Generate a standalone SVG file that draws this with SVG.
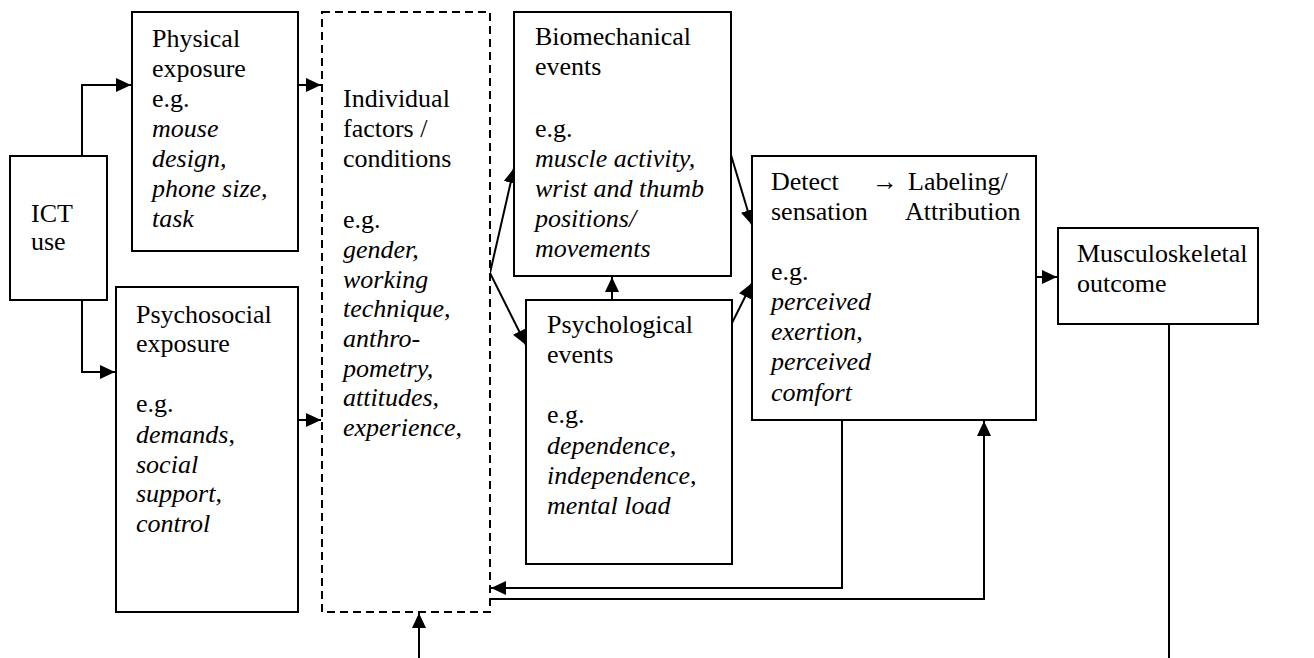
<svg xmlns="http://www.w3.org/2000/svg" width="1314" height="658" viewBox="0 0 1314 658">
<style>
.box{fill:#fff;stroke:#000;stroke-width:2}
.dash{fill:#fff;stroke:#000;stroke-width:2;stroke-dasharray:8 5}
.t{font-family:'Liberation Serif','Times New Roman',serif;font-size:26px;fill:#000}
.i{font-style:italic}
.c{fill:none;stroke:#000;stroke-width:2}
</style>
<defs>
<marker id="ah" markerUnits="userSpaceOnUse" markerWidth="16" markerHeight="14" refX="15" refY="7" orient="auto">
<path d="M0,0 L15,7 L0,14 z" fill="#000"/>
</marker>
</defs>
<rect width="1314" height="658" fill="#fff"/>
<g id="connectors">
<path class="c" d="M82,156 V85 H131" marker-end="url(#ah)"/>
<path class="c" d="M82,300 V372 H115" marker-end="url(#ah)"/>
<path class="c" d="M298,85 H321" marker-end="url(#ah)"/>
<path class="c" d="M298,420 H321" marker-end="url(#ah)"/>
<path class="c" d="M490,273 L514,168" marker-end="url(#ah)"/>
<path class="c" d="M490,273 L526,345" marker-end="url(#ah)"/>
<path class="c" d="M612,300 V277" marker-end="url(#ah)"/>
<path class="c" d="M731,155 L752,225" marker-end="url(#ah)"/>
<path class="c" d="M732,323 L752,283" marker-end="url(#ah)"/>
<path class="c" d="M1036,277 H1057" marker-end="url(#ah)"/>
<path class="c" d="M842,420 V588 H491" marker-end="url(#ah)"/>
<path class="c" d="M491,599 H984 V421" marker-end="url(#ah)"/>
<path class="c" d="M419,658 V613" marker-end="url(#ah)"/>
<path class="c" d="M1169,324 V658"/>
</g>
<g id="ict">
<rect class="box" x="10" y="156" width="97" height="144"/>
<text class="t" x="31" y="222">ICT</text>
<text class="t" x="31" y="250">use</text>
</g>
<g id="physical">
<rect class="box" x="132" y="12" width="166" height="239"/>
<text class="t" x="152" y="47">Physical</text>
<text class="t" x="152" y="77">exposure</text>
<text class="t" x="152" y="107">e.g.</text>
<text class="t i" x="152" y="137">mouse</text>
<text class="t i" x="152" y="167">design,</text>
<text class="t i" x="152" y="197">phone size,</text>
<text class="t i" x="152" y="227">task</text>
</g>
<g id="psychosocial">
<rect class="box" x="116" y="287" width="182" height="325"/>
<text class="t" x="136" y="323">Psychosocial</text>
<text class="t" x="136" y="352">exposure</text>
<text class="t" x="136" y="412">e.g.</text>
<text class="t" x="136" y="443"><tspan class="i">demands</tspan>,</text>
<text class="t i" x="136" y="473">social</text>
<text class="t i" x="136" y="502">support,</text>
<text class="t i" x="136" y="532">control</text>
</g>
<g id="individual">
<rect class="dash" x="322" y="12" width="168" height="600"/>
<text class="t" x="343" y="107">Individual</text>
<text class="t" x="343" y="137">factors /</text>
<text class="t" x="343" y="167">conditions</text>
<text class="t" x="343" y="228">e.g.</text>
<text class="t i" x="343" y="258">gender,</text>
<text class="t i" x="343" y="288">working</text>
<text class="t i" x="343" y="317">technique,</text>
<text class="t i" x="343" y="347">anthro-</text>
<text class="t i" x="343" y="377">pometry,</text>
<text class="t i" x="343" y="406">attitudes,</text>
<text class="t i" x="343" y="436">experience,</text>
</g>
<g id="biomechanical">
<rect class="box" x="514" y="12" width="217" height="264"/>
<text class="t" x="535" y="45">Biomechanical</text>
<text class="t" x="535" y="75">events</text>
<text class="t" x="535" y="137">e.g.</text>
<text class="t i" x="535" y="167">muscle activity,</text>
<text class="t i" x="535" y="197">wrist and thumb</text>
<text class="t i" x="535" y="227">positions/</text>
<text class="t i" x="535" y="257">movements</text>
</g>
<g id="psychological">
<rect class="box" x="526" y="300" width="206" height="264"/>
<text class="t" x="547" y="333">Psychological</text>
<text class="t" x="547" y="363">events</text>
<text class="t" x="547" y="423">e.g.</text>
<text class="t i" x="547" y="454">dependence,</text>
<text class="t i" x="547" y="484">independence,</text>
<text class="t i" x="547" y="514">mental load</text>
</g>
<g id="detect">
<rect class="box" x="752" y="156" width="284" height="264"/>
<text class="t" x="771" y="190">Detect</text>
<text class="t" x="872" y="190">→</text>
<text class="t" x="908" y="190">Labeling/</text>
<text class="t" x="771" y="220">sensation</text>
<text class="t" x="905" y="220">Attribution</text>
<text class="t" x="771" y="280">e.g.</text>
<text class="t i" x="771" y="310">perceived</text>
<text class="t i" x="771" y="340">exertion,</text>
<text class="t i" x="771" y="370">perceived</text>
<text class="t i" x="771" y="401">comfort</text>
</g>
<g id="musculoskeletal">
<rect class="box" x="1058" y="228" width="200" height="96"/>
<text class="t" x="1077" y="262">Musculoskeletal</text>
<text class="t" x="1077" y="292">outcome</text>
</g>
</svg>
